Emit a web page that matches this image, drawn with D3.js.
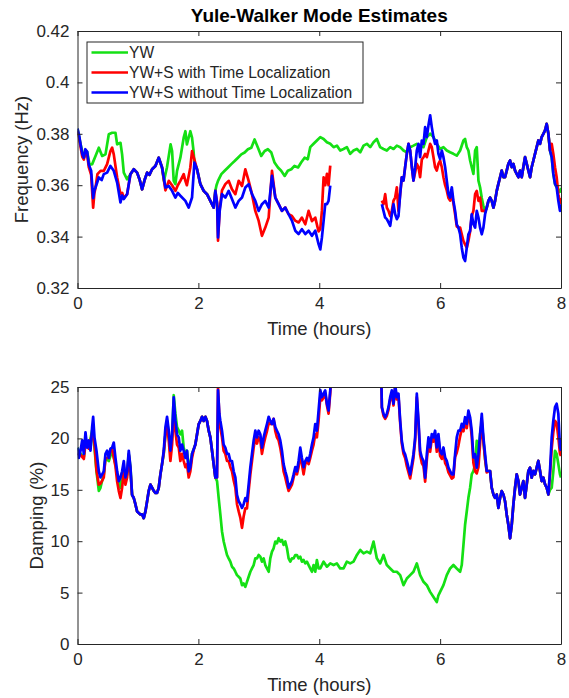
<!DOCTYPE html>
<html><head><meta charset="utf-8">
<script src="https://cdn.jsdelivr.net/npm/d3@7"></script>
<style>body{margin:0;background:#fff}svg{display:block}text{font-family:"Liberation Sans",Arial,Helvetica,sans-serif;fill:#262626}</style>
</head><body><div id="chart"></div>
<script>
const titleText = "Yule-Walker Mode Estimates";
const seriesNames = ["YW", "YW+S with Time Localization", "YW+S without Time Localization"];
const seriesColors = ["#14e014", "#ff0000", "#0000ff"];
const xTicks = [0, 2, 4, 6, 8];
const freqTicks = [0.32, 0.34, 0.36, 0.38, 0.40, 0.42];
const dampTicks = [0, 5, 10, 15, 20, 25];

// ---- Frequency (Hz): [time (hours), value]; null = no estimate ----
const blueFreq = [[0,0.382],[0.03,0.379],[0.05,0.376],[0.08,0.372],[0.105,0.3707],[0.13,0.374],[0.16,0.373],[0.187,0.368],[0.226,0.3656],[0.259,0.355],[0.28,0.358],[0.298,0.3591],[0.353,0.363],[0.40,0.362],[0.435,0.3643],[0.49,0.3649],[0.545,0.3675],[0.60,0.3656],[0.656,0.361],[0.711,0.3533],[0.74,0.356],[0.766,0.3546],[0.821,0.3565],[0.876,0.3643],[0.931,0.3662],[0.986,0.3649],[1.03,0.362],[1.069,0.3584],[1.11,0.362],[1.152,0.3649],[1.19,0.364],[1.234,0.3662],[1.289,0.3675],[1.344,0.3707],[1.399,0.3669],[1.455,0.3591],[1.51,0.3597],[1.565,0.3578],[1.62,0.3552],[1.66,0.357],[1.702,0.3559],[1.785,0.3539],[1.84,0.3513],[1.895,0.3552],[1.934,0.3688],[1.978,0.3662],[2.033,0.3604],[2.088,0.3578],[2.143,0.3565],[2.198,0.3539],[2.253,0.3513],[2.281,0.3578],[2.31,0.353],[2.325,0.3397],[2.353,0.35],[2.391,0.3565],[2.446,0.3552],[2.501,0.3578],[2.556,0.3546],[2.612,0.3513],[2.667,0.3539],[2.722,0.3552],[2.777,0.3591],[2.832,0.3604],[2.887,0.3565],[2.942,0.3539],[2.997,0.35],[3.052,0.3526],[3.107,0.3539],[3.163,0.3513],[3.218,0.3636],[3.273,0.3552],[3.328,0.3526],[3.383,0.35],[3.438,0.3513],[3.493,0.3487],[3.548,0.3462],[3.603,0.3423],[3.658,0.341],[3.713,0.3429],[3.769,0.341],[3.824,0.3423],[3.879,0.3403],[3.934,0.3423],[3.989,0.3371],[4.017,0.335],[4.044,0.3396],[4.072,0.3461],[4.099,0.3526],[4.127,0.3526],[4.154,0.3539],[4.182,0.3598],[4.19,null],[5.03,null],[5.036,0.3526],[5.063,0.35],[5.091,0.3474],[5.118,0.3468],[5.146,0.3455],[5.174,0.3442],[5.201,0.3487],[5.229,0.3526],[5.256,0.3487],[5.284,0.3468],[5.311,0.348],[5.339,0.3565],[5.366,0.3631],[5.394,0.3618],[5.421,0.367],[5.449,0.3722],[5.477,0.3761],[5.504,0.3735],[5.532,0.367],[5.559,0.3618],[5.587,0.367],[5.614,0.3735],[5.642,0.3761],[5.669,0.3709],[5.697,0.3774],[5.725,0.3761],[5.752,0.3826],[5.78,0.3787],[5.807,0.3833],[5.835,0.3872],[5.862,0.3826],[5.89,0.3787],[5.917,0.3761],[5.945,0.3774],[5.972,0.3722],[6.0,0.3702],[6.028,0.3735],[6.055,0.3709],[6.083,0.367],[6.11,0.3618],[6.138,0.3565],[6.165,0.3552],[6.193,0.3592],[6.22,0.3539],[6.248,0.35],[6.275,0.3448],[6.303,0.3435],[6.331,0.3409],[6.358,0.3357],[6.386,0.3318],[6.413,0.3305],[6.441,0.3357],[6.468,0.3409],[6.496,0.3422],[6.523,0.3487],[6.551,0.3448],[6.579,0.3435],[6.606,0.35],[6.634,0.3474],[6.661,0.3435],[6.689,0.3409],[6.716,0.3435],[6.744,0.3487],[6.771,0.3513],[6.799,0.3539],[6.826,0.3552],[6.854,0.3539],[6.882,0.3513],[6.909,0.3539],[6.937,0.3578],[6.964,0.3605],[6.992,0.3631],[7.019,0.3657],[7.047,0.3631],[7.074,0.3631],[7.102,0.3657],[7.129,0.3683],[7.157,0.3696],[7.185,0.367],[7.212,0.3683],[7.24,0.3657],[7.267,0.3644],[7.295,0.3631],[7.322,0.3657],[7.35,0.3631],[7.377,0.367],[7.405,0.3709],[7.433,0.3683],[7.46,0.3657],[7.488,0.3631],[7.515,0.367],[7.543,0.3696],[7.57,0.3722],[7.598,0.3748],[7.625,0.3774],[7.653,0.3761],[7.68,0.3787],[7.708,0.38],[7.736,0.3813],[7.763,0.3839],[7.791,0.38],[7.818,0.3735],[7.846,0.3709],[7.873,0.3644],[7.901,0.3605],[7.928,0.3592],[7.956,0.3539],[7.983,0.35],[8.0,0.3526]];

const redFreq = [[0,0.381],[0.03,0.378],[0.05,0.375],[0.08,0.371],[0.105,0.37],[0.13,0.373],[0.16,0.372],[0.187,0.367],[0.226,0.364],[0.259,0.3513],[0.28,0.357],[0.298,0.359],[0.33,0.3643],[0.381,0.3656],[0.435,0.3656],[0.49,0.3682],[0.545,0.3733],[0.573,0.3746],[0.60,0.372],[0.656,0.363],[0.711,0.3565],[0.74,0.357],[0.766,0.355],[0.821,0.3565],[0.876,0.3643],[0.931,0.3662],[0.986,0.3649],[1.03,0.362],[1.069,0.3584],[1.11,0.362],[1.152,0.3649],[1.19,0.364],[1.234,0.3662],[1.289,0.3675],[1.344,0.3707],[1.399,0.3669],[1.455,0.358],[1.51,0.3617],[1.565,0.36],[1.62,0.3578],[1.66,0.36],[1.702,0.3617],[1.757,0.3643],[1.785,0.3617],[1.81,0.36],[1.867,0.3669],[1.895,0.3733],[1.934,0.37],[1.978,0.3662],[2.033,0.3604],[2.088,0.3578],[2.143,0.3565],[2.198,0.3539],[2.253,0.3513],[2.281,0.3578],[2.31,0.353],[2.325,0.3384],[2.353,0.351],[2.391,0.358],[2.446,0.3604],[2.501,0.3617],[2.556,0.3584],[2.612,0.3565],[2.667,0.3617],[2.722,0.3597],[2.777,0.3662],[2.832,0.3617],[2.887,0.3565],[2.942,0.35],[2.997,0.3462],[3.052,0.3403],[3.107,0.3435],[3.163,0.3474],[3.218,0.3656],[3.273,0.3552],[3.328,0.3526],[3.383,0.35],[3.438,0.3513],[3.493,0.3487],[3.548,0.348],[3.603,0.3462],[3.658,0.3455],[3.713,0.3474],[3.769,0.3448],[3.824,0.35],[3.879,0.346],[3.934,0.3474],[3.989,0.342],[4.017,0.343],[4.044,0.35],[4.072,0.3631],[4.099,0.36],[4.127,0.3644],[4.154,0.36],[4.182,0.3676],[4.19,null],[5.03,null],[5.036,0.354],[5.063,0.3526],[5.091,0.3565],[5.118,0.3513],[5.146,0.35],[5.174,0.348],[5.201,0.35],[5.229,0.354],[5.256,0.3552],[5.284,0.3592],[5.311,0.35],[5.339,0.3565],[5.366,0.3631],[5.394,0.3618],[5.421,0.367],[5.449,0.3722],[5.477,0.3761],[5.504,0.3735],[5.532,0.367],[5.559,0.3618],[5.587,0.365],[5.614,0.3683],[5.642,0.367],[5.669,0.3631],[5.697,0.37],[5.725,0.3709],[5.752,0.3722],[5.78,0.3709],[5.807,0.3735],[5.835,0.3761],[5.862,0.3748],[5.89,0.3709],[5.917,0.367],[5.945,0.3657],[5.972,0.3683],[6.0,0.3696],[6.028,0.367],[6.055,0.3631],[6.083,0.36],[6.11,0.358],[6.138,0.355],[6.165,0.354],[6.193,0.357],[6.22,0.353],[6.248,0.3487],[6.275,0.344],[6.303,0.3435],[6.331,0.3435],[6.358,0.3409],[6.386,0.3383],[6.413,0.337],[6.441,0.3357],[6.468,0.3383],[6.496,0.342],[6.523,0.348],[6.551,0.35],[6.579,0.3565],[6.606,0.3578],[6.634,0.3539],[6.661,0.3552],[6.689,0.35],[6.716,0.35],[6.744,0.35],[6.771,0.3513],[6.799,0.3539],[6.826,0.3552],[6.854,0.3539],[6.882,0.3513],[6.909,0.3539],[6.937,0.3578],[6.964,0.3605],[6.992,0.3631],[7.019,0.3657],[7.047,0.3631],[7.074,0.3631],[7.102,0.3657],[7.129,0.3683],[7.157,0.3696],[7.185,0.367],[7.212,0.3683],[7.24,0.3657],[7.267,0.3644],[7.295,0.3631],[7.322,0.3657],[7.35,0.3631],[7.377,0.367],[7.405,0.3709],[7.433,0.3683],[7.46,0.3657],[7.488,0.3631],[7.515,0.367],[7.543,0.3696],[7.57,0.3722],[7.598,0.3748],[7.625,0.3774],[7.653,0.3761],[7.68,0.3787],[7.708,0.38],[7.736,0.3813],[7.763,0.3839],[7.791,0.38],[7.818,0.3735],[7.846,0.3761],[7.873,0.3722],[7.901,0.367],[7.928,0.3631],[7.956,0.3565],[7.983,0.353],[8.0,0.355]];

const greenFreq = [[0,0.382],[0.05,0.376],[0.105,0.3707],[0.16,0.373],[0.20,0.368],[0.243,0.3682],[0.298,0.3714],[0.353,0.3746],[0.408,0.3714],[0.463,0.372],[0.518,0.3798],[0.573,0.3804],[0.628,0.3804],[0.656,0.3759],[0.711,0.3765],[0.738,0.372],[0.766,0.3649],[0.821,0.3623],[0.876,0.3643],[0.931,0.3662],[0.986,0.3649],[1.03,0.362],[1.069,0.3584],[1.11,0.362],[1.152,0.3649],[1.19,0.364],[1.234,0.3662],[1.289,0.3675],[1.344,0.3707],[1.399,0.3669],[1.43,0.3617],[1.48,0.3669],[1.54,0.3759],[1.565,0.3733],[1.592,0.3617],[1.62,0.3604],[1.647,0.3656],[1.702,0.3707],[1.757,0.3785],[1.785,0.381],[1.81,0.3759],[1.867,0.381],[1.895,0.3785],[1.92,0.3733],[1.934,0.3688],[1.978,0.3662],[2.033,0.3604],[2.088,0.3578],[2.143,0.3565],[2.198,0.3539],[2.253,0.3513],[2.281,0.3578],[2.30,0.36],[2.325,0.3617],[2.38,0.3643],[2.435,0.3656],[2.49,0.3669],[2.545,0.3682],[2.60,0.3694],[2.655,0.3707],[2.71,0.372],[2.765,0.3727],[2.82,0.374],[2.876,0.3746],[2.93,0.3778],[2.986,0.3746],[3.04,0.3714],[3.097,0.3733],[3.15,0.374],[3.207,0.3727],[3.26,0.3688],[3.317,0.3669],[3.37,0.3656],[3.428,0.3636],[3.48,0.3656],[3.538,0.3662],[3.59,0.3675],[3.65,0.3669],[3.70,0.3688],[3.758,0.3707],[3.81,0.3701],[3.851,0.3748],[3.906,0.3761],[3.961,0.3774],[4.017,0.3787],[4.072,0.378],[4.127,0.3767],[4.182,0.3761],[4.237,0.3748],[4.292,0.3754],[4.347,0.3735],[4.402,0.3741],[4.457,0.3748],[4.512,0.3722],[4.567,0.3735],[4.623,0.3741],[4.678,0.3728],[4.733,0.3754],[4.788,0.3761],[4.843,0.3748],[4.898,0.3767],[4.953,0.378],[5.008,0.3748],[5.063,0.3741],[5.118,0.3735],[5.174,0.3748],[5.229,0.3741],[5.284,0.3754],[5.339,0.3748],[5.394,0.3735],[5.449,0.3728],[5.504,0.3748],[5.559,0.3754],[5.614,0.3761],[5.669,0.3754],[5.725,0.3748],[5.78,0.3787],[5.835,0.38],[5.89,0.3787],[5.945,0.3761],[6.0,0.3741],[6.055,0.3748],[6.11,0.3735],[6.165,0.3728],[6.22,0.3722],[6.275,0.3715],[6.331,0.3735],[6.386,0.3774],[6.413,0.378],[6.441,0.3748],[6.468,0.3735],[6.496,0.3696],[6.523,0.367],[6.551,0.3644],[6.579,0.3735],[6.606,0.3748],[6.634,0.3618],[6.661,0.3592],[6.689,0.355],[6.716,0.352],[6.744,0.3495],[6.771,0.3513],[6.799,0.3539],[6.826,0.3552],[6.854,0.3539],[6.882,0.3513],[6.909,0.3539],[6.937,0.3578],[6.964,0.3605],[6.992,0.3631],[7.019,0.3657],[7.047,0.3631],[7.074,0.3631],[7.102,0.3657],[7.129,0.3683],[7.157,0.3696],[7.185,0.367],[7.212,0.3683],[7.24,0.3657],[7.267,0.3644],[7.295,0.3631],[7.322,0.3657],[7.35,0.3631],[7.377,0.367],[7.405,0.3709],[7.433,0.3683],[7.46,0.3657],[7.488,0.3631],[7.515,0.367],[7.543,0.3696],[7.57,0.3722],[7.598,0.3748],[7.625,0.3774],[7.653,0.3761],[7.68,0.3787],[7.708,0.38],[7.736,0.3813],[7.763,0.3839],[7.791,0.38],[7.818,0.3735],[7.846,0.3709],[7.873,0.3644],[7.901,0.3605],[7.928,0.3592],[7.956,0.358],[7.983,0.3575],[8.0,0.359]];

// ---- Damping (%): [time (hours), value] ----
const blueDamp = [[0,19.1],[0.022,18.1],[0.05,18.8],[0.077,19.8],[0.105,18.5],[0.132,20.6],[0.16,19.1],[0.187,19.8],[0.215,18.8],[0.242,21.1],[0.259,22.1],[0.281,20.1],[0.314,18.8],[0.353,16.8],[0.38,16.2],[0.408,16.5],[0.435,16.8],[0.463,18.5],[0.49,18.8],[0.518,18.1],[0.545,19.0],[0.573,19.1],[0.60,19.6],[0.628,18.1],[0.656,16.8],[0.683,15.85],[0.711,16.2],[0.738,16.8],[0.766,17.8],[0.793,16.2],[0.821,16.8],[0.848,18.8],[0.876,17.2],[0.903,14.5],[0.931,14.2],[0.958,13.6],[0.986,12.9],[1.014,12.75],[1.041,12.6],[1.069,12.6],[1.096,12.25],[1.124,12.9],[1.152,13.9],[1.179,14.9],[1.207,15.5],[1.234,15.2],[1.262,14.9],[1.289,14.7],[1.317,14.7],[1.344,15.2],[1.372,16.5],[1.399,17.5],[1.427,18.8],[1.455,21.1],[1.482,22.1],[1.51,20.75],[1.537,18.8],[1.565,20.4],[1.592,24.0],[1.62,21.7],[1.647,20.4],[1.675,20.1],[1.702,18.8],[1.73,19.4],[1.757,18.8],[1.785,18.1],[1.812,18.8],[1.84,16.8],[1.867,17.2],[1.895,18.5],[1.923,18.95],[1.95,19.4],[1.978,20.4],[2.006,21.4],[2.033,21.7],[2.061,22.1],[2.088,21.7],[2.116,22.1],[2.143,21.7],[2.171,20.75],[2.198,20.1],[2.226,18.8],[2.253,17.5],[2.281,16.2],[2.308,16.2],[2.325,24.7],[2.347,22.4],[2.364,21.7],[2.391,20.75],[2.418,19.4],[2.446,19.1],[2.474,18.5],[2.501,18.5],[2.529,17.8],[2.556,17.8],[2.584,16.8],[2.612,16.2],[2.639,14.5],[2.667,13.9],[2.694,13.6],[2.722,13.24],[2.749,13.6],[2.777,14.2],[2.804,13.9],[2.832,15.5],[2.86,17.2],[2.887,18.5],[2.915,19.8],[2.942,20.75],[2.97,20.1],[2.997,20.75],[3.025,20.4],[3.052,19.1],[3.08,20.1],[3.107,20.75],[3.135,21.4],[3.163,22.1],[3.19,21.7],[3.218,21.4],[3.245,21.9],[3.273,21.1],[3.30,20.75],[3.328,20.4],[3.355,19.8],[3.383,18.8],[3.41,17.5],[3.438,16.8],[3.466,16.2],[3.493,15.2],[3.521,15.5],[3.548,15.85],[3.576,16.5],[3.603,17.2],[3.631,16.8],[3.658,17.8],[3.686,19.1],[3.713,18.1],[3.741,17.2],[3.769,17.8],[3.796,18.1],[3.824,17.8],[3.851,18.5],[3.879,19.4],[3.906,20.1],[3.934,21.4],[3.961,20.75],[3.989,22.7],[4.017,24.7],[4.044,24.0],[4.072,24.35],[4.099,24.67],[4.127,23.37],[4.154,22.71],[4.182,24.67],[4.2,26.5],[4.21,null],[5.02,null],[5.025,26.5],[5.036,23.04],[5.063,22.4],[5.091,22.06],[5.118,22.4],[5.146,23.04],[5.174,24.02],[5.201,24.67],[5.229,23.37],[5.256,25.2],[5.284,24.02],[5.311,24.35],[5.339,21.73],[5.366,19.77],[5.394,18.79],[5.421,18.46],[5.449,17.81],[5.477,17.16],[5.504,16.5],[5.532,17.48],[5.559,18.46],[5.587,20.1],[5.614,24.35],[5.642,21.73],[5.669,18.79],[5.697,18.14],[5.725,17.81],[5.752,16.18],[5.78,18.46],[5.807,20.1],[5.835,19.12],[5.862,20.42],[5.89,20.1],[5.917,20.75],[5.945,19.12],[5.972,20.42],[6.0,18.79],[6.028,18.46],[6.055,19.12],[6.083,18.14],[6.11,17.81],[6.138,17.16],[6.165,16.83],[6.193,16.5],[6.22,16.5],[6.248,18.46],[6.275,20.1],[6.303,20.75],[6.331,20.75],[6.358,21.41],[6.386,21.08],[6.413,22.06],[6.441,21.41],[6.468,22.71],[6.496,22.06],[6.523,20.75],[6.551,18.14],[6.579,18.46],[6.606,17.16],[6.634,18.46],[6.661,20.42],[6.689,22.39],[6.716,20.1],[6.744,18.46],[6.771,16.83],[6.799,16.83],[6.826,16.83],[6.854,15.2],[6.882,14.54],[6.909,14.22],[6.937,14.54],[6.964,13.24],[6.992,14.22],[7.019,14.87],[7.047,14.54],[7.074,13.89],[7.102,12.58],[7.129,11.6],[7.157,10.29],[7.185,11.6],[7.212,13.56],[7.24,15.2],[7.267,16.5],[7.295,15.85],[7.322,14.54],[7.35,15.2],[7.377,15.85],[7.405,14.22],[7.433,15.52],[7.46,16.83],[7.488,17.16],[7.515,16.18],[7.543,16.83],[7.57,16.5],[7.598,17.16],[7.625,17.81],[7.653,16.83],[7.68,15.85],[7.708,16.18],[7.736,15.52],[7.763,15.2],[7.791,14.54],[7.818,16.83],[7.846,20.1],[7.873,21.73],[7.901,23.04],[7.928,23.37],[7.956,22.39],[7.983,19.12],[8.0,18.79]];

const redDamp = [[0,18.5],[0.05,18.4],[0.105,18.0],[0.132,19.5],[0.187,19.0],[0.242,20.5],[0.281,19.5],[0.314,16.9],[0.353,15.5],[0.38,15.6],[0.408,15.9],[0.435,16.2],[0.463,18.1],[0.518,18.1],[0.545,18.9],[0.573,19.0],[0.628,17.3],[0.656,15.8],[0.683,14.9],[0.711,14.2],[0.738,15.2],[0.766,16.8],[0.793,15.5],[0.821,16.2],[0.848,18.4],[0.876,16.8],[0.903,14.5],[0.931,14.2],[0.958,13.6],[0.986,12.9],[1.014,12.75],[1.041,12.6],[1.069,12.6],[1.096,12.25],[1.124,12.9],[1.152,13.9],[1.179,14.9],[1.207,15.5],[1.234,15.2],[1.262,14.9],[1.289,14.7],[1.317,14.7],[1.344,15.2],[1.372,16.5],[1.399,17.5],[1.427,18.6],[1.455,20.4],[1.482,21.4],[1.51,19.8],[1.537,17.8],[1.565,19.4],[1.592,22.7],[1.62,20.7],[1.647,19.4],[1.675,19.1],[1.702,17.8],[1.73,18.5],[1.757,17.8],[1.785,17.2],[1.812,17.5],[1.84,16.2],[1.867,16.8],[1.895,18.1],[1.923,18.9],[1.95,19.4],[1.978,20.4],[2.006,21.4],[2.033,21.7],[2.061,22.1],[2.088,21.7],[2.116,22.1],[2.143,21.7],[2.171,20.75],[2.198,20.1],[2.226,18.8],[2.253,17.5],[2.281,16.2],[2.308,16.2],[2.325,24.9],[2.347,22.1],[2.364,21.0],[2.391,20.1],[2.418,18.8],[2.446,18.5],[2.474,17.8],[2.501,17.8],[2.529,17.2],[2.556,16.8],[2.584,15.9],[2.612,15.2],[2.639,13.6],[2.667,12.9],[2.694,12.3],[2.722,11.3],[2.749,12.4],[2.777,13.2],[2.804,13.2],[2.832,14.9],[2.86,16.5],[2.887,17.8],[2.915,19.1],[2.942,20.1],[2.97,19.5],[2.997,20.1],[3.025,19.8],[3.052,18.5],[3.08,19.4],[3.107,20.1],[3.135,20.7],[3.163,21.5],[3.19,21.4],[3.218,21.4],[3.245,21.9],[3.273,20.7],[3.30,20.1],[3.328,19.8],[3.355,19.1],[3.383,18.1],[3.41,16.8],[3.438,16.2],[3.466,15.5],[3.493,14.9],[3.521,15.2],[3.548,15.5],[3.576,16.2],[3.603,16.8],[3.631,16.5],[3.658,17.2],[3.686,18.5],[3.713,17.5],[3.741,16.5],[3.769,17.5],[3.796,17.8],[3.824,17.5],[3.851,18.1],[3.879,18.8],[3.906,19.4],[3.934,20.4],[3.961,20.1],[3.989,21.7],[4.017,24.0],[4.044,23.7],[4.072,24.0],[4.099,24.4],[4.127,23.2],[4.154,22.4],[4.182,24.4],[4.2,26.5],[4.21,null],[5.02,null],[5.025,26.5],[5.036,23.0],[5.063,22.2],[5.091,21.9],[5.118,22.2],[5.146,22.8],[5.174,23.8],[5.201,24.4],[5.229,23.2],[5.256,25.0],[5.284,23.8],[5.311,24.1],[5.339,21.5],[5.366,19.5],[5.394,18.5],[5.421,18.1],[5.449,17.3],[5.477,16.7],[5.504,16.1],[5.532,17.1],[5.559,18.1],[5.587,19.8],[5.614,24.0],[5.642,21.4],[5.669,18.4],[5.697,17.6],[5.725,17.3],[5.752,15.8],[5.78,17.9],[5.807,19.6],[5.835,18.7],[5.862,20.0],[5.89,19.7],[5.917,20.3],[5.945,18.7],[5.972,20.0],[6.0,18.3],[6.028,18.0],[6.055,18.7],[6.083,17.6],[6.11,17.3],[6.138,16.7],[6.165,16.4],[6.193,16.1],[6.22,16.2],[6.248,18.2],[6.275,18.6],[6.303,19.3],[6.331,20.2],[6.358,20.9],[6.386,20.7],[6.413,21.7],[6.441,21.0],[6.468,22.3],[6.496,21.7],[6.523,20.2],[6.551,17.6],[6.579,16.8],[6.606,16.6],[6.634,17.2],[6.661,19.5],[6.689,21.8],[6.716,19.7],[6.744,18.0],[6.771,16.7],[6.799,16.83],[6.826,16.83],[6.854,15.2],[6.882,14.54],[6.909,14.22],[6.937,14.54],[6.964,13.24],[6.992,14.22],[7.019,14.87],[7.047,14.54],[7.074,13.89],[7.102,12.58],[7.129,11.6],[7.157,10.29],[7.185,11.6],[7.212,13.56],[7.24,15.2],[7.267,16.5],[7.295,15.85],[7.322,14.54],[7.35,15.2],[7.377,15.85],[7.405,14.22],[7.433,15.52],[7.46,16.83],[7.488,17.16],[7.515,16.18],[7.543,16.83],[7.57,16.5],[7.598,17.16],[7.625,17.81],[7.653,16.83],[7.68,15.85],[7.708,16.18],[7.736,15.52],[7.763,15.2],[7.791,14.54],[7.818,16.5],[7.846,19.0],[7.873,20.6],[7.901,21.7],[7.928,21.5],[7.956,20.1],[7.983,18.5],[8.0,18.3]];

const greenDamp = [[0,19.1],[0.05,18.5],[0.105,18.2],[0.132,19.8],[0.187,19.1],[0.242,20.8],[0.281,19.1],[0.314,16.8],[0.353,14.9],[0.38,15.2],[0.408,15.9],[0.435,16.5],[0.463,18.1],[0.518,17.8],[0.573,18.8],[0.628,17.5],[0.656,16.5],[0.683,15.5],[0.711,15.2],[0.738,16.5],[0.766,17.2],[0.793,15.9],[0.821,16.5],[0.848,18.5],[0.876,17.2],[0.903,14.5],[0.931,14.2],[0.958,13.6],[0.986,12.9],[1.014,12.75],[1.041,12.6],[1.069,12.6],[1.096,12.25],[1.124,12.9],[1.152,13.9],[1.179,14.9],[1.207,15.5],[1.234,15.2],[1.262,14.9],[1.289,14.7],[1.317,14.7],[1.344,15.2],[1.372,16.5],[1.399,17.5],[1.427,18.5],[1.455,20.4],[1.482,21.7],[1.51,20.4],[1.537,18.5],[1.565,20.1],[1.592,24.2],[1.62,22.4],[1.647,21.1],[1.675,20.75],[1.702,20.4],[1.73,20.75],[1.757,19.1],[1.785,18.5],[1.812,18.8],[1.84,17.2],[1.867,17.5],[1.895,18.5],[1.923,18.95],[1.95,19.4],[1.978,20.4],[2.006,21.4],[2.033,21.7],[2.061,22.1],[2.088,21.7],[2.116,22.1],[2.143,21.7],[2.171,20.75],[2.198,20.1],[2.226,18.8],[2.253,17.5],[2.281,16.2],[2.309,15.85],[2.336,14.2],[2.364,12.58],[2.391,10.95],[2.419,9.97],[2.446,9.31],[2.474,8.66],[2.501,8.33],[2.529,8.01],[2.556,7.52],[2.584,7.35],[2.612,7.03],[2.639,6.7],[2.667,6.54],[2.694,6.37],[2.722,5.72],[2.749,5.88],[2.777,5.56],[2.804,6.05],[2.832,6.54],[2.86,7.03],[2.887,7.35],[2.915,7.68],[2.942,8.33],[2.97,8.33],[2.997,8.66],[3.025,8.5],[3.052,8.01],[3.08,8.33],[3.107,7.68],[3.135,7.35],[3.163,7.03],[3.19,8.33],[3.218,8.99],[3.245,9.31],[3.273,9.97],[3.30,9.8],[3.328,10.29],[3.355,9.97],[3.383,10.13],[3.41,9.64],[3.438,9.97],[3.466,9.31],[3.493,8.33],[3.521,8.01],[3.548,8.33],[3.576,8.33],[3.603,8.66],[3.631,8.66],[3.658,8.33],[3.686,8.5],[3.713,8.01],[3.741,8.17],[3.769,7.84],[3.796,8.01],[3.824,7.68],[3.851,7.35],[3.879,7.03],[3.906,7.68],[3.934,7.03],[3.961,8.17],[3.989,7.35],[4.017,7.35],[4.072,8.01],[4.127,7.52],[4.182,7.84],[4.237,7.68],[4.292,7.84],[4.347,7.35],[4.402,7.35],[4.457,8.01],[4.512,7.84],[4.567,8.01],[4.623,8.66],[4.678,9.15],[4.733,8.82],[4.788,8.99],[4.843,8.82],[4.898,9.97],[4.953,8.33],[5.008,7.84],[5.063,8.66],[5.118,7.68],[5.174,7.35],[5.229,7.03],[5.284,7.03],[5.339,6.7],[5.394,5.72],[5.449,6.37],[5.504,6.7],[5.559,7.03],[5.614,7.84],[5.669,6.7],[5.725,6.05],[5.78,5.72],[5.835,5.07],[5.89,4.58],[5.945,4.08],[5.972,4.74],[6.0,5.07],[6.055,5.72],[6.11,6.7],[6.165,7.35],[6.22,7.68],[6.275,7.35],[6.331,7.03],[6.358,7.68],[6.386,9.64],[6.413,11.6],[6.441,12.91],[6.468,14.22],[6.496,15.2],[6.523,16.5],[6.551,16.83],[6.579,17.48],[6.606,19.77],[6.634,18.46],[6.661,20.42],[6.689,21.5],[6.716,19.8],[6.744,18.0],[6.771,16.83],[6.799,16.83],[6.826,16.83],[6.854,15.2],[6.882,14.54],[6.909,14.22],[6.937,14.54],[6.964,13.24],[6.992,14.22],[7.019,14.87],[7.047,14.54],[7.074,13.89],[7.102,12.58],[7.129,11.6],[7.157,10.29],[7.185,11.6],[7.212,13.56],[7.24,15.2],[7.267,16.5],[7.295,15.85],[7.322,14.54],[7.35,15.2],[7.377,15.85],[7.405,14.22],[7.433,15.52],[7.46,16.83],[7.488,17.16],[7.515,16.18],[7.543,16.83],[7.57,16.5],[7.598,17.16],[7.625,17.81],[7.653,16.83],[7.68,15.85],[7.708,16.18],[7.736,15.52],[7.763,15.2],[7.791,14.54],[7.818,15.0],[7.846,15.2],[7.873,16.8],[7.901,18.8],[7.928,18.5],[7.956,17.5],[7.983,16.5],[8.0,16.2]];

// ---------------- drawing ----------------
const W = 569, H = 698;
const svg = d3.select("#chart").append("svg").attr("width", W).attr("height", H);
const axisColor = "#262626";
const left = 77.5, right = 561;

const x = d3.scaleLinear().domain([0, 8]).range([left, right]);

function panel(cfg) {
  const y = d3.scaleLinear().domain(cfg.domain).range([cfg.bottom, cfg.top]);
  const g = svg.append("g");
  const clipId = "clip" + cfg.id;
  svg.append("defs").append("clipPath").attr("id", clipId)
    .append("rect").attr("x", left).attr("y", cfg.top).attr("width", right - left).attr("height", cfg.bottom - cfg.top);

  const line = d3.line().defined(d => d[1] !== null).x(d => x(d[0])).y(d => y(d[1]));
  const lines = g.append("g").attr("clip-path", `url(#${clipId})`);
  cfg.series.forEach((s, i) => {
    lines.append("path").datum(s).attr("d", line)
      .attr("fill", "none").attr("stroke", seriesColors[i]).attr("stroke-width", 2.7)
      .attr("stroke-linejoin", "round");
  });

  // axes (MATLAB style: box, inward ticks on all sides)
  const tl = 5;
  const bottomAxis = d3.axisBottom(x).tickValues(xTicks).tickFormat(d3.format("d")).tickSizeInner(-tl).tickSizeOuter(0).tickPadding(9);
  const topAxis = d3.axisTop(x).tickValues(xTicks).tickFormat("").tickSizeInner(-tl).tickSizeOuter(0);
  const leftAxis = d3.axisLeft(y).tickValues(cfg.ticks).tickFormat(cfg.fmt).tickSizeInner(-tl).tickSizeOuter(0).tickPadding(8);
  const rightAxis = d3.axisRight(y).tickValues(cfg.ticks).tickFormat("").tickSizeInner(-tl).tickSizeOuter(0);

  const ax = [
    g.append("g").attr("transform", `translate(0,${cfg.bottom})`).call(bottomAxis),
    g.append("g").attr("transform", `translate(0,${cfg.top})`).call(topAxis),
    g.append("g").attr("transform", `translate(${left},0)`).call(leftAxis),
    g.append("g").attr("transform", `translate(${right},0)`).call(rightAxis)
  ];
  ax.forEach(a => {
    a.select(".domain").attr("stroke", axisColor).attr("stroke-width", 1);
    a.selectAll(".tick line").attr("stroke", axisColor);
    a.selectAll(".tick text").attr("fill", axisColor).style("font-size", "17px")
      .style("font-family", '"Liberation Sans", Arial, sans-serif');
  });

  g.append("text").attr("x", (left + right) / 2).attr("y", cfg.bottom + 47)
    .attr("text-anchor", "middle").style("font-size", "18.5px").text("Time (hours)");
  g.append("text").attr("transform", `translate(${cfg.ylabX},${(cfg.top + cfg.bottom) / 2}) rotate(-90)`)
    .attr("text-anchor", "middle").attr("dy", "0.35em").style("font-size", "18.5px").text(cfg.ylabel);
  return {y, g};
}

panel({id: 1, top: 31, bottom: 288, domain: [0.32, 0.42], ticks: freqTicks, fmt: d => d3.format("")(+d.toFixed(2)),
  series: [greenFreq, redFreq, blueFreq], ylabel: "Frequency (Hz)", ylabX: 22});
panel({id: 2, top: 387, bottom: 644, domain: [0, 25], ticks: dampTicks, fmt: d3.format("d"),
  series: [greenDamp, redDamp, blueDamp], ylabel: "Damping (%)", ylabX: 37});

// title
svg.append("text").attr("x", (left + right) / 2).attr("y", 22).attr("text-anchor", "middle")
  .style("font-size", "19px").style("font-weight", "bold").attr("fill", "#000").style("fill", "#000").text(titleText);

// legend
const lg = svg.append("g").attr("transform", "translate(87,42)");
lg.append("rect").attr("x", 0).attr("y", 0).attr("width", 276).attr("height", 61)
  .attr("fill", "#fff").attr("stroke", axisColor).attr("stroke-width", 1);
seriesNames.forEach((n, i) => {
  const yy = 10.5 + i * 20;
  lg.append("line").attr("x1", 4.5).attr("x2", 41).attr("y1", yy).attr("y2", yy)
    .attr("stroke", seriesColors[i]).attr("stroke-width", 2.7);
  lg.append("text").attr("x", 42).attr("y", yy).attr("dy", "0.36em").style("font-size", "15.6px").text(n);
});
</script></body></html>
